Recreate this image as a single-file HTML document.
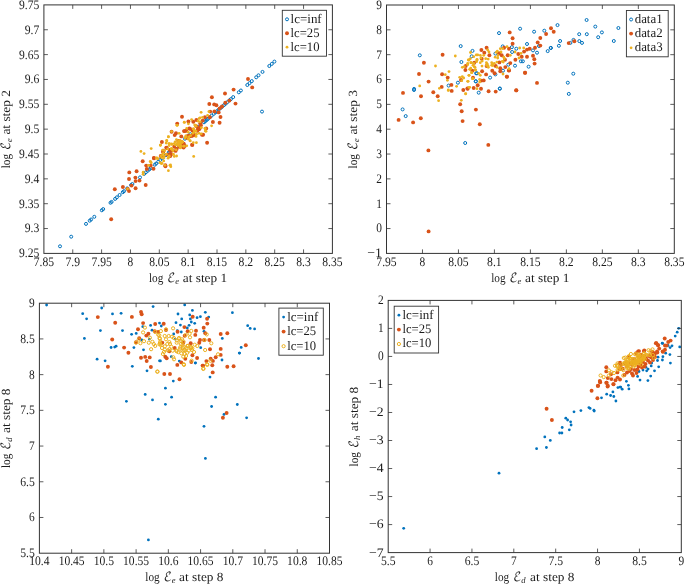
<!DOCTYPE html>
<html lang="en"><head><meta charset="utf-8"><title>Scatter plots</title>
<style>html,body{margin:0;padding:0;background:#fff}svg{display:block}text{text-rendering:geometricPrecision;font-family:"Liberation Serif","DejaVu Serif",serif}</style>
</head><body>
<svg style="will-change:transform" width="685" height="585" viewBox="0 0 685 585">
<rect width="685" height="585" fill="#fff"/>
<!-- panel 1 -->
<g fill="none" stroke="#0072BD" stroke-width="1"><circle cx="60.0" cy="246.3" r="1.5"/><circle cx="71.2" cy="236.7" r="1.5"/><circle cx="86.0" cy="223.9" r="1.5"/><circle cx="89.7" cy="220.7" r="1.5"/><circle cx="91.1" cy="219.5" r="1.5"/><circle cx="94.3" cy="216.8" r="1.5"/><circle cx="101.8" cy="210.3" r="1.5"/><circle cx="103.2" cy="209.1" r="1.5"/><circle cx="110.5" cy="202.8" r="1.5"/><circle cx="111.6" cy="201.9" r="1.5"/><circle cx="115.1" cy="198.9" r="1.5"/><circle cx="116.9" cy="197.3" r="1.5"/><circle cx="119.6" cy="195.0" r="1.5"/><circle cx="122.8" cy="192.2" r="1.5"/><circle cx="124.0" cy="191.2" r="1.5"/><circle cx="127.2" cy="188.4" r="1.5"/><circle cx="131.1" cy="185.1" r="1.5"/><circle cx="132.4" cy="184.0" r="1.5"/><circle cx="140.0" cy="177.4" r="1.5"/><circle cx="144.1" cy="173.9" r="1.5"/><circle cx="145.9" cy="172.3" r="1.5"/><circle cx="147.7" cy="170.8" r="1.5"/><circle cx="149.4" cy="169.3" r="1.5"/><circle cx="150.7" cy="168.2" r="1.5"/><circle cx="154.8" cy="164.7" r="1.5"/><circle cx="156.1" cy="163.6" r="1.5"/><circle cx="158.3" cy="161.7" r="1.5"/><circle cx="160.1" cy="160.1" r="1.5"/><circle cx="162.2" cy="158.3" r="1.5"/><circle cx="165.9" cy="155.1" r="1.5"/><circle cx="168.9" cy="152.5" r="1.5"/><circle cx="169.4" cy="152.1" r="1.5"/><circle cx="176.1" cy="146.3" r="1.5"/><circle cx="184.9" cy="138.7" r="1.5"/><circle cx="187.6" cy="136.4" r="1.5"/><circle cx="190.2" cy="134.2" r="1.5"/><circle cx="199.1" cy="126.5" r="1.5"/><circle cx="204.0" cy="122.3" r="1.5"/><circle cx="205.3" cy="121.2" r="1.5"/><circle cx="206.7" cy="120.0" r="1.5"/><circle cx="208.0" cy="118.8" r="1.5"/><circle cx="209.8" cy="117.3" r="1.5"/><circle cx="211.6" cy="115.7" r="1.5"/><circle cx="213.8" cy="113.8" r="1.5"/><circle cx="215.6" cy="112.3" r="1.5"/><circle cx="216.9" cy="111.2" r="1.5"/><circle cx="218.7" cy="109.6" r="1.5"/><circle cx="220.5" cy="108.1" r="1.5"/><circle cx="222.0" cy="106.8" r="1.5"/><circle cx="224.0" cy="105.1" r="1.5"/><circle cx="225.5" cy="103.8" r="1.5"/><circle cx="227.2" cy="102.3" r="1.5"/><circle cx="229.4" cy="100.4" r="1.5"/><circle cx="230.9" cy="99.1" r="1.5"/><circle cx="233.2" cy="97.1" r="1.5"/><circle cx="238.8" cy="92.3" r="1.5"/><circle cx="240.9" cy="90.5" r="1.5"/><circle cx="247.3" cy="85.0" r="1.5"/><circle cx="249.5" cy="83.1" r="1.5"/><circle cx="251.8" cy="81.1" r="1.5"/><circle cx="256.2" cy="77.3" r="1.5"/><circle cx="258.5" cy="75.3" r="1.5"/><circle cx="262.5" cy="71.9" r="1.5"/><circle cx="269.3" cy="66.0" r="1.5"/><circle cx="271.8" cy="63.9" r="1.5"/><circle cx="274.4" cy="61.6" r="1.5"/><circle cx="262.0" cy="111.6" r="1.5"/></g>
<g fill="#D95319"><circle cx="111.2" cy="219.3" r="1.95"/><circle cx="114.8" cy="189.3" r="1.95"/><circle cx="122.9" cy="187.0" r="1.95"/><circle cx="129.0" cy="191.1" r="1.95"/><circle cx="135.6" cy="188.2" r="1.95"/><circle cx="131.5" cy="185.6" r="1.95"/><circle cx="145.7" cy="185.0" r="1.95"/><circle cx="135.6" cy="181.1" r="1.95"/><circle cx="139.5" cy="180.6" r="1.95"/><circle cx="129.0" cy="179.0" r="1.95"/><circle cx="135.4" cy="177.6" r="1.95"/><circle cx="129.3" cy="172.4" r="1.95"/><circle cx="136.6" cy="171.2" r="1.95"/><circle cx="142.7" cy="161.2" r="1.95"/><circle cx="146.2" cy="165.6" r="1.95"/><circle cx="150.7" cy="165.6" r="1.95"/><circle cx="146.8" cy="169.0" r="1.95"/><circle cx="153.5" cy="168.7" r="1.95"/><circle cx="153.9" cy="158.0" r="1.95"/><circle cx="161.3" cy="156.2" r="1.95"/><circle cx="163.1" cy="152.1" r="1.95"/><circle cx="161.9" cy="142.0" r="1.95"/><circle cx="165.4" cy="166.2" r="1.95"/><circle cx="127.7" cy="188.9" r="1.95"/><circle cx="163.2" cy="151.6" r="1.95"/><circle cx="166.3" cy="147.6" r="1.95"/><circle cx="171.2" cy="154.2" r="1.95"/><circle cx="170.3" cy="156.0" r="1.95"/><circle cx="176.6" cy="148.9" r="1.95"/><circle cx="174.3" cy="146.7" r="1.95"/><circle cx="179.2" cy="141.8" r="1.95"/><circle cx="181.9" cy="146.2" r="1.95"/><circle cx="183.7" cy="143.6" r="1.95"/><circle cx="209.3" cy="104.0" r="1.95"/><circle cx="214.2" cy="104.4" r="1.95"/><circle cx="216.4" cy="105.2" r="1.95"/><circle cx="219.6" cy="108.4" r="1.95"/><circle cx="210.2" cy="111.6" r="1.95"/><circle cx="214.4" cy="111.4" r="1.95"/><circle cx="218.7" cy="112.4" r="1.95"/><circle cx="182.0" cy="116.7" r="1.95"/><circle cx="204.9" cy="117.3" r="1.95"/><circle cx="209.8" cy="117.3" r="1.95"/><circle cx="196.4" cy="120.0" r="1.95"/><circle cx="202.7" cy="120.6" r="1.95"/><circle cx="188.4" cy="121.5" r="1.95"/><circle cx="193.3" cy="121.8" r="1.95"/><circle cx="212.9" cy="122.0" r="1.95"/><circle cx="219.6" cy="122.7" r="1.95"/><circle cx="177.2" cy="123.6" r="1.95"/><circle cx="200.9" cy="125.3" r="1.95"/><circle cx="200.4" cy="127.6" r="1.95"/><circle cx="189.3" cy="128.4" r="1.95"/><circle cx="206.2" cy="128.4" r="1.95"/><circle cx="199.1" cy="129.3" r="1.95"/><circle cx="184.0" cy="131.1" r="1.95"/><circle cx="186.2" cy="130.7" r="1.95"/><circle cx="197.3" cy="130.7" r="1.95"/><circle cx="176.0" cy="133.3" r="1.95"/><circle cx="174.7" cy="135.1" r="1.95"/><circle cx="181.3" cy="136.4" r="1.95"/><circle cx="193.8" cy="134.7" r="1.95"/><circle cx="203.1" cy="134.7" r="1.95"/><circle cx="189.3" cy="135.6" r="1.95"/><circle cx="207.1" cy="142.8" r="1.95"/><circle cx="192.2" cy="144.9" r="1.95"/><circle cx="182.2" cy="142.7" r="1.95"/><circle cx="183.6" cy="144.4" r="1.95"/><circle cx="178.2" cy="140.9" r="1.95"/><circle cx="179.1" cy="146.7" r="1.95"/><circle cx="183.6" cy="147.6" r="1.95"/><circle cx="248.0" cy="79.0" r="1.95"/><circle cx="252.2" cy="87.4" r="1.95"/><circle cx="233.6" cy="89.6" r="1.95"/><circle cx="225.0" cy="93.5" r="1.95"/><circle cx="211.9" cy="97.3" r="1.95"/><circle cx="235.5" cy="103.6" r="1.95"/><circle cx="229.4" cy="100.6" r="1.95"/><circle cx="225.3" cy="102.8" r="1.95"/><circle cx="222.0" cy="106.5" r="1.95"/><circle cx="220.5" cy="117.0" r="1.95"/><circle cx="171.6" cy="131.7" r="1.95"/><circle cx="165.3" cy="165.3" r="1.95"/><circle cx="160.7" cy="156.0" r="1.95"/><circle cx="170.0" cy="154.0" r="1.95"/><circle cx="154.0" cy="158.3" r="1.95"/><circle cx="166.7" cy="148.0" r="1.95"/><circle cx="163.3" cy="150.7" r="1.95"/><circle cx="192.3" cy="144.7" r="1.95"/><circle cx="202.0" cy="134.7" r="1.95"/><circle cx="194.0" cy="135.3" r="1.95"/><circle cx="190.0" cy="128.7" r="1.95"/><circle cx="184.7" cy="131.1" r="1.95"/><circle cx="169.7" cy="149.9" r="1.95"/><circle cx="186.9" cy="136.5" r="1.95"/><circle cx="188.3" cy="136.1" r="1.95"/><circle cx="197.8" cy="127.8" r="1.95"/><circle cx="172.0" cy="150.5" r="1.95"/><circle cx="184.6" cy="145.9" r="1.95"/><circle cx="196.2" cy="126.1" r="1.95"/><circle cx="167.0" cy="154.6" r="1.95"/><circle cx="189.4" cy="136.6" r="1.95"/><circle cx="192.4" cy="130.4" r="1.95"/><circle cx="191.8" cy="136.0" r="1.95"/><circle cx="187.3" cy="138.1" r="1.95"/><circle cx="175.6" cy="150.9" r="1.95"/><circle cx="181.7" cy="142.3" r="1.95"/><circle cx="193.5" cy="133.7" r="1.95"/><circle cx="200.3" cy="123.2" r="1.95"/></g>
<g fill="#EDB120"><circle cx="140.9" cy="151.4" r="1.4"/><circle cx="144.1" cy="153.6" r="1.4"/><circle cx="143.2" cy="172.2" r="1.4"/><circle cx="150.7" cy="162.1" r="1.4"/><circle cx="156.9" cy="158.0" r="1.4"/><circle cx="127.6" cy="188.8" r="1.4"/><circle cx="151.2" cy="148.6" r="1.4"/><circle cx="160.4" cy="145.3" r="1.4"/><circle cx="148.6" cy="165.3" r="1.4"/><circle cx="150.3" cy="161.3" r="1.4"/><circle cx="151.2" cy="162.7" r="1.4"/><circle cx="156.6" cy="158.2" r="1.4"/><circle cx="157.9" cy="158.7" r="1.4"/><circle cx="161.3" cy="163.6" r="1.4"/><circle cx="163.7" cy="160.9" r="1.4"/><circle cx="165.0" cy="165.3" r="1.4"/><circle cx="168.4" cy="170.7" r="1.4"/><circle cx="170.5" cy="164.9" r="1.4"/><circle cx="170.8" cy="166.7" r="1.4"/><circle cx="168.1" cy="158.2" r="1.4"/><circle cx="169.0" cy="156.4" r="1.4"/><circle cx="174.3" cy="156.4" r="1.4"/><circle cx="176.6" cy="156.0" r="1.4"/><circle cx="173.4" cy="154.2" r="1.4"/><circle cx="162.3" cy="155.1" r="1.4"/><circle cx="164.1" cy="156.0" r="1.4"/><circle cx="161.9" cy="157.8" r="1.4"/><circle cx="164.0" cy="157.8" r="1.4"/><circle cx="163.2" cy="153.3" r="1.4"/><circle cx="164.6" cy="150.7" r="1.4"/><circle cx="166.3" cy="154.2" r="1.4"/><circle cx="167.7" cy="148.9" r="1.4"/><circle cx="171.2" cy="148.9" r="1.4"/><circle cx="173.0" cy="150.7" r="1.4"/><circle cx="169.4" cy="143.6" r="1.4"/><circle cx="166.8" cy="140.9" r="1.4"/><circle cx="172.1" cy="144.4" r="1.4"/><circle cx="174.3" cy="143.6" r="1.4"/><circle cx="177.4" cy="143.6" r="1.4"/><circle cx="180.1" cy="144.4" r="1.4"/><circle cx="178.3" cy="141.3" r="1.4"/><circle cx="181.9" cy="141.8" r="1.4"/><circle cx="183.7" cy="146.2" r="1.4"/><circle cx="180.1" cy="147.1" r="1.4"/><circle cx="201.1" cy="112.3" r="1.4"/><circle cx="208.9" cy="111.6" r="1.4"/><circle cx="207.6" cy="115.3" r="1.4"/><circle cx="191.6" cy="119.6" r="1.4"/><circle cx="184.2" cy="122.2" r="1.4"/><circle cx="188.4" cy="123.8" r="1.4"/><circle cx="200.0" cy="121.8" r="1.4"/><circle cx="176.9" cy="125.3" r="1.4"/><circle cx="194.7" cy="124.9" r="1.4"/><circle cx="196.0" cy="126.2" r="1.4"/><circle cx="211.6" cy="125.8" r="1.4"/><circle cx="186.7" cy="128.4" r="1.4"/><circle cx="204.9" cy="128.4" r="1.4"/><circle cx="205.3" cy="131.1" r="1.4"/><circle cx="193.3" cy="128.9" r="1.4"/><circle cx="171.6" cy="131.6" r="1.4"/><circle cx="179.1" cy="133.3" r="1.4"/><circle cx="194.2" cy="132.0" r="1.4"/><circle cx="196.0" cy="131.1" r="1.4"/><circle cx="192.9" cy="133.3" r="1.4"/><circle cx="199.1" cy="133.3" r="1.4"/><circle cx="201.3" cy="133.8" r="1.4"/><circle cx="196.4" cy="134.2" r="1.4"/><circle cx="168.4" cy="136.6" r="1.4"/><circle cx="185.8" cy="136.0" r="1.4"/><circle cx="190.7" cy="135.6" r="1.4"/><circle cx="196.0" cy="136.4" r="1.4"/><circle cx="166.7" cy="140.4" r="1.4"/><circle cx="176.4" cy="139.6" r="1.4"/><circle cx="190.2" cy="140.9" r="1.4"/><circle cx="193.3" cy="142.7" r="1.4"/><circle cx="196.4" cy="142.7" r="1.4"/><circle cx="166.2" cy="143.1" r="1.4"/><circle cx="168.9" cy="143.6" r="1.4"/><circle cx="171.6" cy="144.0" r="1.4"/><circle cx="175.1" cy="141.8" r="1.4"/><circle cx="177.8" cy="142.7" r="1.4"/><circle cx="180.0" cy="143.6" r="1.4"/><circle cx="181.8" cy="141.8" r="1.4"/><circle cx="180.9" cy="145.8" r="1.4"/><circle cx="184.0" cy="146.2" r="1.4"/><circle cx="186.7" cy="145.8" r="1.4"/><circle cx="171.6" cy="148.4" r="1.4"/><circle cx="162.7" cy="150.2" r="1.4"/><circle cx="193.7" cy="156.4" r="1.4"/><circle cx="170.0" cy="165.3" r="1.4"/><circle cx="162.0" cy="163.3" r="1.4"/><circle cx="160.4" cy="145.1" r="1.4"/><circle cx="184.4" cy="122.4" r="1.4"/><circle cx="177.3" cy="125.3" r="1.4"/><circle cx="205.3" cy="128.7" r="1.4"/><circle cx="206.0" cy="131.3" r="1.4"/><circle cx="168.4" cy="136.9" r="1.4"/><circle cx="160.4" cy="145.1" r="1.4"/><circle cx="190.0" cy="140.7" r="1.4"/><circle cx="169.2" cy="155.9" r="1.4"/><circle cx="160.1" cy="162.7" r="1.4"/><circle cx="186.1" cy="136.7" r="1.4"/><circle cx="188.9" cy="137.0" r="1.4"/><circle cx="194.1" cy="130.0" r="1.4"/><circle cx="175.5" cy="144.9" r="1.4"/><circle cx="172.1" cy="149.6" r="1.4"/><circle cx="176.1" cy="149.8" r="1.4"/><circle cx="160.7" cy="156.0" r="1.4"/><circle cx="169.1" cy="145.5" r="1.4"/><circle cx="200.0" cy="117.8" r="1.4"/><circle cx="179.0" cy="142.1" r="1.4"/><circle cx="198.0" cy="121.0" r="1.4"/><circle cx="193.6" cy="128.9" r="1.4"/><circle cx="180.2" cy="140.6" r="1.4"/><circle cx="188.2" cy="132.2" r="1.4"/><circle cx="182.7" cy="141.8" r="1.4"/><circle cx="199.3" cy="118.4" r="1.4"/><circle cx="201.3" cy="127.7" r="1.4"/><circle cx="178.2" cy="145.5" r="1.4"/><circle cx="180.5" cy="147.9" r="1.4"/><circle cx="185.0" cy="138.0" r="1.4"/><circle cx="180.2" cy="142.2" r="1.4"/><circle cx="179.6" cy="140.4" r="1.4"/><circle cx="202.5" cy="117.3" r="1.4"/><circle cx="143.1" cy="174.3" r="1.4"/><circle cx="182.0" cy="142.5" r="1.4"/><circle cx="180.5" cy="142.0" r="1.4"/><circle cx="188.2" cy="139.0" r="1.4"/><circle cx="177.5" cy="143.9" r="1.4"/></g>
<path d="M72.75 253.40v-4.00M72.75 4.90v4.00M101.60 253.40v-4.00M101.60 4.90v4.00M130.45 253.40v-4.00M130.45 4.90v4.00M159.30 253.40v-4.00M159.30 4.90v4.00M188.15 253.40v-4.00M188.15 4.90v4.00M217.00 253.40v-4.00M217.00 4.90v4.00M245.85 253.40v-4.00M245.85 4.90v4.00M274.70 253.40v-4.00M274.70 4.90v4.00M303.55 253.40v-4.00M303.55 4.90v4.00M43.90 228.55h4.00M332.40 228.55h-4.00M43.90 203.70h4.00M332.40 203.70h-4.00M43.90 178.85h4.00M332.40 178.85h-4.00M43.90 154.00h4.00M332.40 154.00h-4.00M43.90 129.15h4.00M332.40 129.15h-4.00M43.90 104.30h4.00M332.40 104.30h-4.00M43.90 79.45h4.00M332.40 79.45h-4.00M43.90 54.60h4.00M332.40 54.60h-4.00M43.90 29.75h4.00M332.40 29.75h-4.00" stroke="#333" stroke-width="0.8" fill="none"/>
<rect x="43.90" y="4.90" width="288.50" height="248.50" fill="none" stroke="#333" stroke-width="1"/>
<g font-size="13.0" fill="#1c1c1c">
<text x="43.90" y="265.60" text-anchor="middle" textLength="20.3" lengthAdjust="spacingAndGlyphs">7.85</text>
<text x="72.75" y="265.60" text-anchor="middle" textLength="14.6" lengthAdjust="spacingAndGlyphs">7.9</text>
<text x="101.60" y="265.60" text-anchor="middle" textLength="20.3" lengthAdjust="spacingAndGlyphs">7.95</text>
<text x="130.45" y="265.60" text-anchor="middle" textLength="5.7" lengthAdjust="spacingAndGlyphs">8</text>
<text x="159.30" y="265.60" text-anchor="middle" textLength="20.3" lengthAdjust="spacingAndGlyphs">8.05</text>
<text x="188.15" y="265.60" text-anchor="middle" textLength="14.6" lengthAdjust="spacingAndGlyphs">8.1</text>
<text x="217.00" y="265.60" text-anchor="middle" textLength="20.3" lengthAdjust="spacingAndGlyphs">8.15</text>
<text x="245.85" y="265.60" text-anchor="middle" textLength="14.6" lengthAdjust="spacingAndGlyphs">8.2</text>
<text x="274.70" y="265.60" text-anchor="middle" textLength="20.3" lengthAdjust="spacingAndGlyphs">8.25</text>
<text x="303.55" y="265.60" text-anchor="middle" textLength="14.6" lengthAdjust="spacingAndGlyphs">8.3</text>
<text x="332.40" y="265.60" text-anchor="middle" textLength="20.3" lengthAdjust="spacingAndGlyphs">8.35</text>
<text x="39.30" y="257.30" text-anchor="end" textLength="20.3" lengthAdjust="spacingAndGlyphs">9.25</text>
<text x="39.30" y="232.45" text-anchor="end" textLength="14.6" lengthAdjust="spacingAndGlyphs">9.3</text>
<text x="39.30" y="207.60" text-anchor="end" textLength="20.3" lengthAdjust="spacingAndGlyphs">9.35</text>
<text x="39.30" y="182.75" text-anchor="end" textLength="14.6" lengthAdjust="spacingAndGlyphs">9.4</text>
<text x="39.30" y="157.90" text-anchor="end" textLength="20.3" lengthAdjust="spacingAndGlyphs">9.45</text>
<text x="39.30" y="133.05" text-anchor="end" textLength="14.6" lengthAdjust="spacingAndGlyphs">9.5</text>
<text x="39.30" y="108.20" text-anchor="end" textLength="20.3" lengthAdjust="spacingAndGlyphs">9.55</text>
<text x="39.30" y="83.35" text-anchor="end" textLength="14.6" lengthAdjust="spacingAndGlyphs">9.6</text>
<text x="39.30" y="58.50" text-anchor="end" textLength="20.3" lengthAdjust="spacingAndGlyphs">9.65</text>
<text x="39.30" y="33.65" text-anchor="end" textLength="14.6" lengthAdjust="spacingAndGlyphs">9.7</text>
<text x="39.30" y="8.80" text-anchor="end" textLength="20.3" lengthAdjust="spacingAndGlyphs">9.75</text>
</g>
<!-- panel 2 -->
<g fill="none" stroke="#0072BD" stroke-width="1"><circle cx="419.8" cy="55.3" r="1.5"/><circle cx="414.1" cy="88.9" r="1.5"/><circle cx="460.7" cy="46.1" r="1.5"/><circle cx="472.5" cy="50.9" r="1.5"/><circle cx="471.7" cy="56.3" r="1.5"/><circle cx="461.4" cy="62.0" r="1.5"/><circle cx="457.9" cy="82.7" r="1.5"/><circle cx="448.6" cy="85.6" r="1.5"/><circle cx="476.1" cy="73.3" r="1.5"/><circle cx="475.7" cy="81.3" r="1.5"/><circle cx="520.1" cy="28.7" r="1.5"/><circle cx="499.0" cy="33.1" r="1.5"/><circle cx="534.1" cy="31.7" r="1.5"/><circle cx="544.3" cy="30.7" r="1.5"/><circle cx="527.0" cy="44.0" r="1.5"/><circle cx="502.7" cy="46.4" r="1.5"/><circle cx="511.9" cy="47.1" r="1.5"/><circle cx="516.3" cy="48.7" r="1.5"/><circle cx="512.1" cy="52.0" r="1.5"/><circle cx="495.4" cy="53.6" r="1.5"/><circle cx="533.0" cy="50.4" r="1.5"/><circle cx="537.0" cy="52.7" r="1.5"/><circle cx="539.0" cy="46.0" r="1.5"/><circle cx="550.7" cy="48.0" r="1.5"/><circle cx="547.7" cy="51.1" r="1.5"/><circle cx="520.9" cy="61.3" r="1.5"/><circle cx="522.9" cy="61.3" r="1.5"/><circle cx="515.0" cy="65.7" r="1.5"/><circle cx="528.6" cy="66.7" r="1.5"/><circle cx="508.3" cy="64.7" r="1.5"/><circle cx="503.0" cy="70.7" r="1.5"/><circle cx="495.4" cy="74.4" r="1.5"/><circle cx="490.1" cy="77.6" r="1.5"/><circle cx="477.0" cy="73.3" r="1.5"/><circle cx="475.9" cy="81.3" r="1.5"/><circle cx="499.9" cy="88.7" r="1.5"/><circle cx="478.7" cy="92.7" r="1.5"/><circle cx="557.5" cy="25.1" r="1.5"/><circle cx="586.6" cy="20.0" r="1.5"/><circle cx="595.3" cy="26.6" r="1.5"/><circle cx="618.4" cy="28.0" r="1.5"/><circle cx="601.9" cy="32.4" r="1.5"/><circle cx="586.8" cy="34.2" r="1.5"/><circle cx="579.2" cy="34.2" r="1.5"/><circle cx="598.2" cy="37.2" r="1.5"/><circle cx="613.8" cy="41.0" r="1.5"/><circle cx="573.5" cy="39.9" r="1.5"/><circle cx="579.3" cy="41.1" r="1.5"/><circle cx="582.0" cy="42.9" r="1.5"/><circle cx="570.4" cy="42.9" r="1.5"/><circle cx="560.1" cy="41.0" r="1.5"/><circle cx="558.9" cy="45.8" r="1.5"/><circle cx="550.9" cy="47.9" r="1.5"/><circle cx="573.3" cy="73.7" r="1.5"/><circle cx="567.8" cy="82.7" r="1.5"/><circle cx="568.8" cy="93.9" r="1.5"/><circle cx="402.6" cy="109.4" r="1.5"/><circle cx="405.7" cy="116.1" r="1.5"/><circle cx="465.2" cy="143.0" r="1.5"/><circle cx="414.0" cy="90.0" r="1.5"/><circle cx="499.8" cy="88.5" r="1.5"/></g>
<g fill="#D95319"><circle cx="442.6" cy="54.7" r="1.95"/><circle cx="423.9" cy="62.8" r="1.95"/><circle cx="419.0" cy="74.0" r="1.95"/><circle cx="442.1" cy="74.3" r="1.95"/><circle cx="447.7" cy="77.6" r="1.95"/><circle cx="428.6" cy="81.6" r="1.95"/><circle cx="451.4" cy="84.9" r="1.95"/><circle cx="441.7" cy="86.9" r="1.95"/><circle cx="451.7" cy="90.9" r="1.95"/><circle cx="403.0" cy="92.9" r="1.95"/><circle cx="433.3" cy="92.3" r="1.95"/><circle cx="421.0" cy="96.3" r="1.95"/><circle cx="437.7" cy="96.3" r="1.95"/><circle cx="463.3" cy="90.0" r="1.95"/><circle cx="467.4" cy="88.4" r="1.95"/><circle cx="473.7" cy="88.0" r="1.95"/><circle cx="465.4" cy="70.0" r="1.95"/><circle cx="473.0" cy="77.6" r="1.95"/><circle cx="465.7" cy="66.0" r="1.95"/><circle cx="472.3" cy="70.7" r="1.95"/><circle cx="474.3" cy="62.7" r="1.95"/><circle cx="461.0" cy="80.0" r="1.95"/><circle cx="509.7" cy="32.4" r="1.95"/><circle cx="512.6" cy="38.3" r="1.95"/><circle cx="512.6" cy="43.7" r="1.95"/><circle cx="551.0" cy="28.3" r="1.95"/><circle cx="553.7" cy="31.7" r="1.95"/><circle cx="546.1" cy="34.0" r="1.95"/><circle cx="540.3" cy="38.0" r="1.95"/><circle cx="537.7" cy="42.4" r="1.95"/><circle cx="540.3" cy="45.6" r="1.95"/><circle cx="535.0" cy="47.7" r="1.95"/><circle cx="529.7" cy="48.7" r="1.95"/><circle cx="527.0" cy="49.6" r="1.95"/><circle cx="524.1" cy="51.6" r="1.95"/><circle cx="518.3" cy="54.0" r="1.95"/><circle cx="521.7" cy="56.7" r="1.95"/><circle cx="527.0" cy="56.7" r="1.95"/><circle cx="533.0" cy="55.7" r="1.95"/><circle cx="534.3" cy="59.3" r="1.95"/><circle cx="534.6" cy="63.6" r="1.95"/><circle cx="515.4" cy="59.7" r="1.95"/><circle cx="510.3" cy="63.1" r="1.95"/><circle cx="525.0" cy="72.7" r="1.95"/><circle cx="537.0" cy="82.9" r="1.95"/><circle cx="516.3" cy="90.3" r="1.95"/><circle cx="507.0" cy="76.7" r="1.95"/><circle cx="495.7" cy="91.6" r="1.95"/><circle cx="488.6" cy="91.3" r="1.95"/><circle cx="481.0" cy="88.7" r="1.95"/><circle cx="477.7" cy="85.3" r="1.95"/><circle cx="467.7" cy="88.7" r="1.95"/><circle cx="483.7" cy="80.4" r="1.95"/><circle cx="481.5" cy="80.6" r="1.95"/><circle cx="486.1" cy="74.4" r="1.95"/><circle cx="492.3" cy="70.7" r="1.95"/><circle cx="494.6" cy="73.3" r="1.95"/><circle cx="500.3" cy="71.3" r="1.95"/><circle cx="500.3" cy="68.3" r="1.95"/><circle cx="495.7" cy="66.0" r="1.95"/><circle cx="486.6" cy="66.0" r="1.95"/><circle cx="482.1" cy="71.3" r="1.95"/><circle cx="505.3" cy="67.1" r="1.95"/><circle cx="499.4" cy="62.4" r="1.95"/><circle cx="509.0" cy="70.4" r="1.95"/><circle cx="481.4" cy="50.0" r="1.95"/><circle cx="486.6" cy="47.7" r="1.95"/><circle cx="484.3" cy="52.7" r="1.95"/><circle cx="489.4" cy="55.3" r="1.95"/><circle cx="499.0" cy="53.3" r="1.95"/><circle cx="501.7" cy="55.3" r="1.95"/><circle cx="504.1" cy="47.7" r="1.95"/><circle cx="509.0" cy="48.7" r="1.95"/><circle cx="507.7" cy="55.3" r="1.95"/><circle cx="481.7" cy="58.7" r="1.95"/><circle cx="505.0" cy="59.7" r="1.95"/><circle cx="568.7" cy="43.1" r="1.95"/><circle cx="574.4" cy="41.3" r="1.95"/><circle cx="420.8" cy="118.3" r="1.95"/><circle cx="460.2" cy="104.2" r="1.95"/><circle cx="461.7" cy="111.3" r="1.95"/><circle cx="475.9" cy="109.6" r="1.95"/><circle cx="462.6" cy="121.1" r="1.95"/><circle cx="479.8" cy="124.3" r="1.95"/><circle cx="488.3" cy="144.9" r="1.95"/><circle cx="428.4" cy="150.4" r="1.95"/><circle cx="398.6" cy="119.9" r="1.95"/><circle cx="413.1" cy="122.4" r="1.95"/><circle cx="428.6" cy="231.4" r="1.95"/><circle cx="525.1" cy="72.7" r="1.95"/><circle cx="516.2" cy="90.4" r="1.95"/><circle cx="506.8" cy="76.6" r="1.95"/><circle cx="508.9" cy="70.5" r="1.95"/></g>
<g fill="#EDB120"><circle cx="455.3" cy="56.0" r="1.4"/><circle cx="435.5" cy="66.0" r="1.4"/><circle cx="449.0" cy="71.6" r="1.4"/><circle cx="445.3" cy="74.7" r="1.4"/><circle cx="447.4" cy="80.3" r="1.4"/><circle cx="419.7" cy="85.9" r="1.4"/><circle cx="439.4" cy="88.3" r="1.4"/><circle cx="448.3" cy="90.0" r="1.4"/><circle cx="456.6" cy="86.3" r="1.4"/><circle cx="465.7" cy="93.6" r="1.4"/><circle cx="469.7" cy="87.3" r="1.4"/><circle cx="468.1" cy="81.3" r="1.4"/><circle cx="459.7" cy="77.3" r="1.4"/><circle cx="462.3" cy="76.7" r="1.4"/><circle cx="463.7" cy="78.0" r="1.4"/><circle cx="461.7" cy="80.7" r="1.4"/><circle cx="469.0" cy="75.3" r="1.4"/><circle cx="472.3" cy="78.7" r="1.4"/><circle cx="462.3" cy="67.3" r="1.4"/><circle cx="464.3" cy="66.7" r="1.4"/><circle cx="467.7" cy="64.7" r="1.4"/><circle cx="468.3" cy="60.0" r="1.4"/><circle cx="470.3" cy="58.7" r="1.4"/><circle cx="471.0" cy="62.7" r="1.4"/><circle cx="473.7" cy="63.3" r="1.4"/><circle cx="474.3" cy="66.7" r="1.4"/><circle cx="470.3" cy="69.3" r="1.4"/><circle cx="471.7" cy="72.7" r="1.4"/><circle cx="475.0" cy="70.0" r="1.4"/><circle cx="473.7" cy="56.7" r="1.4"/><circle cx="476.3" cy="54.9" r="1.4"/><circle cx="507.0" cy="46.7" r="1.4"/><circle cx="519.7" cy="48.0" r="1.4"/><circle cx="523.7" cy="48.0" r="1.4"/><circle cx="521.0" cy="53.3" r="1.4"/><circle cx="515.0" cy="52.0" r="1.4"/><circle cx="519.0" cy="58.0" r="1.4"/><circle cx="510.3" cy="55.3" r="1.4"/><circle cx="500.3" cy="48.7" r="1.4"/><circle cx="501.0" cy="52.0" r="1.4"/><circle cx="497.7" cy="58.0" r="1.4"/><circle cx="504.3" cy="58.7" r="1.4"/><circle cx="502.3" cy="61.3" r="1.4"/><circle cx="487.7" cy="50.0" r="1.4"/><circle cx="489.0" cy="52.0" r="1.4"/><circle cx="477.7" cy="54.9" r="1.4"/><circle cx="480.3" cy="55.3" r="1.4"/><circle cx="483.7" cy="55.3" r="1.4"/><circle cx="481.0" cy="58.0" r="1.4"/><circle cx="485.7" cy="58.7" r="1.4"/><circle cx="477.0" cy="59.3" r="1.4"/><circle cx="469.0" cy="60.0" r="1.4"/><circle cx="467.7" cy="63.3" r="1.4"/><circle cx="471.0" cy="62.7" r="1.4"/><circle cx="473.0" cy="65.3" r="1.4"/><circle cx="480.3" cy="62.7" r="1.4"/><circle cx="487.0" cy="64.0" r="1.4"/><circle cx="491.7" cy="62.7" r="1.4"/><circle cx="494.3" cy="63.3" r="1.4"/><circle cx="491.7" cy="65.3" r="1.4"/><circle cx="488.3" cy="67.3" r="1.4"/><circle cx="475.0" cy="67.3" r="1.4"/><circle cx="469.7" cy="69.3" r="1.4"/><circle cx="475.7" cy="70.0" r="1.4"/><circle cx="471.7" cy="72.7" r="1.4"/><circle cx="469.0" cy="75.3" r="1.4"/><circle cx="480.3" cy="75.3" r="1.4"/><circle cx="473.0" cy="78.7" r="1.4"/><circle cx="479.7" cy="79.3" r="1.4"/><circle cx="467.7" cy="81.3" r="1.4"/><circle cx="479.7" cy="82.0" r="1.4"/><circle cx="469.0" cy="87.3" r="1.4"/><circle cx="477.0" cy="88.7" r="1.4"/><circle cx="503.0" cy="74.0" r="1.4"/><circle cx="509.0" cy="68.7" r="1.4"/><circle cx="497.0" cy="67.3" r="1.4"/><circle cx="438.6" cy="100.7" r="1.4"/><circle cx="461.3" cy="100.3" r="1.4"/><circle cx="465.6" cy="93.9" r="1.4"/><circle cx="448.3" cy="90.4" r="1.4"/><circle cx="482.0" cy="66.1" r="1.4"/><circle cx="482.2" cy="61.1" r="1.4"/><circle cx="476.6" cy="61.7" r="1.4"/><circle cx="492.9" cy="65.5" r="1.4"/><circle cx="492.3" cy="64.5" r="1.4"/><circle cx="487.2" cy="64.1" r="1.4"/><circle cx="470.7" cy="68.1" r="1.4"/><circle cx="488.1" cy="66.0" r="1.4"/><circle cx="470.5" cy="52.5" r="1.4"/><circle cx="476.9" cy="60.2" r="1.4"/><circle cx="486.4" cy="62.7" r="1.4"/><circle cx="488.2" cy="59.1" r="1.4"/><circle cx="486.5" cy="65.4" r="1.4"/><circle cx="478.7" cy="73.3" r="1.4"/><circle cx="503.3" cy="62.0" r="1.4"/><circle cx="496.3" cy="52.3" r="1.4"/><circle cx="497.9" cy="55.5" r="1.4"/><circle cx="503.8" cy="57.2" r="1.4"/><circle cx="497.3" cy="51.2" r="1.4"/><circle cx="496.9" cy="62.1" r="1.4"/><circle cx="495.2" cy="57.2" r="1.4"/><circle cx="502.6" cy="48.6" r="1.4"/></g>
<path d="M422.47 253.40v-4.00M422.47 5.00v4.00M458.45 253.40v-4.00M458.45 5.00v4.00M494.42 253.40v-4.00M494.42 5.00v4.00M530.40 253.40v-4.00M530.40 5.00v4.00M566.37 253.40v-4.00M566.37 5.00v4.00M602.35 253.40v-4.00M602.35 5.00v4.00M638.33 253.40v-4.00M638.33 5.00v4.00M386.50 228.56h4.00M674.30 228.56h-4.00M386.50 203.72h4.00M674.30 203.72h-4.00M386.50 178.88h4.00M674.30 178.88h-4.00M386.50 154.04h4.00M674.30 154.04h-4.00M386.50 129.20h4.00M674.30 129.20h-4.00M386.50 104.36h4.00M674.30 104.36h-4.00M386.50 79.52h4.00M674.30 79.52h-4.00M386.50 54.68h4.00M674.30 54.68h-4.00M386.50 29.84h4.00M674.30 29.84h-4.00" stroke="#333" stroke-width="0.8" fill="none"/>
<rect x="386.50" y="5.00" width="287.80" height="248.40" fill="none" stroke="#333" stroke-width="1"/>
<g font-size="13.0" fill="#1c1c1c">
<text x="386.50" y="265.60" text-anchor="middle" textLength="20.3" lengthAdjust="spacingAndGlyphs">7.95</text>
<text x="422.47" y="265.60" text-anchor="middle" textLength="5.7" lengthAdjust="spacingAndGlyphs">8</text>
<text x="458.45" y="265.60" text-anchor="middle" textLength="20.3" lengthAdjust="spacingAndGlyphs">8.05</text>
<text x="494.42" y="265.60" text-anchor="middle" textLength="14.6" lengthAdjust="spacingAndGlyphs">8.1</text>
<text x="530.40" y="265.60" text-anchor="middle" textLength="20.3" lengthAdjust="spacingAndGlyphs">8.15</text>
<text x="566.37" y="265.60" text-anchor="middle" textLength="14.6" lengthAdjust="spacingAndGlyphs">8.2</text>
<text x="602.35" y="265.60" text-anchor="middle" textLength="20.3" lengthAdjust="spacingAndGlyphs">8.25</text>
<text x="638.33" y="265.60" text-anchor="middle" textLength="14.6" lengthAdjust="spacingAndGlyphs">8.3</text>
<text x="674.30" y="265.60" text-anchor="middle" textLength="20.3" lengthAdjust="spacingAndGlyphs">8.35</text>
<text x="381.90" y="257.30" text-anchor="end" textLength="14.6" lengthAdjust="spacingAndGlyphs">−1</text>
<text x="381.90" y="232.46" text-anchor="end" textLength="5.7" lengthAdjust="spacingAndGlyphs">0</text>
<text x="381.90" y="207.62" text-anchor="end" textLength="5.7" lengthAdjust="spacingAndGlyphs">1</text>
<text x="381.90" y="182.78" text-anchor="end" textLength="5.7" lengthAdjust="spacingAndGlyphs">2</text>
<text x="381.90" y="157.94" text-anchor="end" textLength="5.7" lengthAdjust="spacingAndGlyphs">3</text>
<text x="381.90" y="133.10" text-anchor="end" textLength="5.7" lengthAdjust="spacingAndGlyphs">4</text>
<text x="381.90" y="108.26" text-anchor="end" textLength="5.7" lengthAdjust="spacingAndGlyphs">5</text>
<text x="381.90" y="83.42" text-anchor="end" textLength="5.7" lengthAdjust="spacingAndGlyphs">6</text>
<text x="381.90" y="58.58" text-anchor="end" textLength="5.7" lengthAdjust="spacingAndGlyphs">7</text>
<text x="381.90" y="33.74" text-anchor="end" textLength="5.7" lengthAdjust="spacingAndGlyphs">8</text>
<text x="381.90" y="8.90" text-anchor="end" textLength="5.7" lengthAdjust="spacingAndGlyphs">9</text>
</g>
<!-- panel 3 -->
<g fill="#0072BD"><circle cx="46.6" cy="305.0" r="1.4"/><circle cx="101.7" cy="308.0" r="1.4"/><circle cx="82.7" cy="313.7" r="1.4"/><circle cx="86.6" cy="318.8" r="1.4"/><circle cx="112.5" cy="313.9" r="1.4"/><circle cx="121.1" cy="313.3" r="1.4"/><circle cx="153.1" cy="306.6" r="1.4"/><circle cx="100.4" cy="330.6" r="1.4"/><circle cx="122.5" cy="330.6" r="1.4"/><circle cx="84.4" cy="338.4" r="1.4"/><circle cx="131.6" cy="334.3" r="1.4"/><circle cx="136.2" cy="333.4" r="1.4"/><circle cx="111.1" cy="347.5" r="1.4"/><circle cx="114.7" cy="347.1" r="1.4"/><circle cx="116.1" cy="346.2" r="1.4"/><circle cx="133.9" cy="347.6" r="1.4"/><circle cx="143.5" cy="349.8" r="1.4"/><circle cx="97.1" cy="359.2" r="1.4"/><circle cx="105.1" cy="360.8" r="1.4"/><circle cx="132.3" cy="366.3" r="1.4"/><circle cx="147.0" cy="370.8" r="1.4"/><circle cx="145.2" cy="394.4" r="1.4"/><circle cx="126.4" cy="401.3" r="1.4"/><circle cx="152.5" cy="399.9" r="1.4"/><circle cx="150.6" cy="325.4" r="1.4"/><circle cx="142.8" cy="326.7" r="1.4"/><circle cx="159.5" cy="323.1" r="1.4"/><circle cx="141.7" cy="340.0" r="1.4"/><circle cx="149.3" cy="339.1" r="1.4"/><circle cx="152.0" cy="330.2" r="1.4"/><circle cx="159.5" cy="360.8" r="1.4"/><circle cx="184.7" cy="304.9" r="1.4"/><circle cx="192.4" cy="310.4" r="1.4"/><circle cx="178.0" cy="314.0" r="1.4"/><circle cx="189.7" cy="314.9" r="1.4"/><circle cx="181.7" cy="318.9" r="1.4"/><circle cx="190.4" cy="318.9" r="1.4"/><circle cx="197.1" cy="317.7" r="1.4"/><circle cx="200.4" cy="316.7" r="1.4"/><circle cx="205.3" cy="312.3" r="1.4"/><circle cx="208.7" cy="317.1" r="1.4"/><circle cx="232.4" cy="312.7" r="1.4"/><circle cx="176.0" cy="322.7" r="1.4"/><circle cx="180.4" cy="325.1" r="1.4"/><circle cx="191.3" cy="322.0" r="1.4"/><circle cx="194.7" cy="323.3" r="1.4"/><circle cx="189.1" cy="325.3" r="1.4"/><circle cx="187.3" cy="328.0" r="1.4"/><circle cx="181.3" cy="332.0" r="1.4"/><circle cx="177.3" cy="330.7" r="1.4"/><circle cx="161.3" cy="326.0" r="1.4"/><circle cx="173.7" cy="334.0" r="1.4"/><circle cx="175.1" cy="339.1" r="1.4"/><circle cx="204.0" cy="331.3" r="1.4"/><circle cx="222.3" cy="338.4" r="1.4"/><circle cx="200.7" cy="347.7" r="1.4"/><circle cx="239.3" cy="353.1" r="1.4"/><circle cx="222.0" cy="360.0" r="1.4"/><circle cx="195.3" cy="363.1" r="1.4"/><circle cx="179.3" cy="361.1" r="1.4"/><circle cx="160.4" cy="360.9" r="1.4"/><circle cx="171.3" cy="356.7" r="1.4"/><circle cx="210.0" cy="377.1" r="1.4"/><circle cx="173.3" cy="381.1" r="1.4"/><circle cx="165.4" cy="388.2" r="1.4"/><circle cx="171.6" cy="397.2" r="1.4"/><circle cx="165.4" cy="404.3" r="1.4"/><circle cx="158.3" cy="419.2" r="1.4"/><circle cx="215.6" cy="397.2" r="1.4"/><circle cx="211.6" cy="406.5" r="1.4"/><circle cx="237.3" cy="404.5" r="1.4"/><circle cx="224.0" cy="414.4" r="1.4"/><circle cx="246.6" cy="417.8" r="1.4"/><circle cx="204.0" cy="426.3" r="1.4"/><circle cx="205.4" cy="458.4" r="1.4"/><circle cx="195.5" cy="362.8" r="1.4"/><circle cx="247.7" cy="325.7" r="1.4"/><circle cx="250.2" cy="328.4" r="1.4"/><circle cx="254.6" cy="328.9" r="1.4"/><circle cx="241.2" cy="347.4" r="1.4"/><circle cx="239.6" cy="353.1" r="1.4"/><circle cx="258.5" cy="358.5" r="1.4"/><circle cx="148.4" cy="539.9" r="1.4"/></g>
<g fill="#D95319"><circle cx="97.8" cy="317.1" r="1.95"/><circle cx="115.2" cy="322.8" r="1.95"/><circle cx="131.9" cy="316.9" r="1.95"/><circle cx="141.0" cy="311.9" r="1.95"/><circle cx="141.7" cy="314.2" r="1.95"/><circle cx="143.1" cy="323.1" r="1.95"/><circle cx="155.2" cy="324.0" r="1.95"/><circle cx="138.0" cy="329.3" r="1.95"/><circle cx="112.2" cy="339.5" r="1.95"/><circle cx="124.1" cy="347.6" r="1.95"/><circle cx="128.4" cy="352.8" r="1.95"/><circle cx="107.9" cy="366.7" r="1.95"/><circle cx="141.0" cy="357.8" r="1.95"/><circle cx="145.2" cy="356.9" r="1.95"/><circle cx="149.7" cy="357.4" r="1.95"/><circle cx="146.7" cy="361.0" r="1.95"/><circle cx="150.9" cy="367.0" r="1.95"/><circle cx="146.3" cy="335.6" r="1.95"/><circle cx="148.4" cy="333.8" r="1.95"/><circle cx="154.7" cy="331.1" r="1.95"/><circle cx="158.2" cy="332.0" r="1.95"/><circle cx="139.2" cy="338.2" r="1.95"/><circle cx="136.0" cy="342.3" r="1.95"/><circle cx="192.7" cy="316.7" r="1.95"/><circle cx="207.1" cy="318.7" r="1.95"/><circle cx="207.3" cy="323.6" r="1.95"/><circle cx="203.7" cy="327.7" r="1.95"/><circle cx="163.7" cy="323.7" r="1.95"/><circle cx="184.4" cy="327.1" r="1.95"/><circle cx="187.7" cy="331.3" r="1.95"/><circle cx="196.0" cy="330.7" r="1.95"/><circle cx="195.3" cy="334.9" r="1.95"/><circle cx="184.7" cy="335.7" r="1.95"/><circle cx="177.6" cy="331.7" r="1.95"/><circle cx="166.0" cy="330.0" r="1.95"/><circle cx="205.3" cy="333.3" r="1.95"/><circle cx="220.7" cy="334.0" r="1.95"/><circle cx="227.3" cy="333.3" r="1.95"/><circle cx="200.0" cy="340.0" r="1.95"/><circle cx="209.3" cy="340.0" r="1.95"/><circle cx="204.0" cy="340.0" r="1.95"/><circle cx="199.3" cy="342.7" r="1.95"/><circle cx="162.3" cy="342.7" r="1.95"/><circle cx="220.7" cy="348.9" r="1.95"/><circle cx="210.0" cy="349.3" r="1.95"/><circle cx="220.7" cy="354.9" r="1.95"/><circle cx="215.7" cy="357.3" r="1.95"/><circle cx="210.7" cy="358.7" r="1.95"/><circle cx="206.4" cy="361.1" r="1.95"/><circle cx="212.9" cy="360.9" r="1.95"/><circle cx="197.1" cy="358.0" r="1.95"/><circle cx="192.4" cy="355.3" r="1.95"/><circle cx="203.1" cy="365.6" r="1.95"/><circle cx="212.3" cy="365.3" r="1.95"/><circle cx="227.3" cy="366.7" r="1.95"/><circle cx="233.6" cy="366.3" r="1.95"/><circle cx="212.7" cy="372.4" r="1.95"/><circle cx="177.3" cy="364.9" r="1.95"/><circle cx="181.3" cy="362.4" r="1.95"/><circle cx="191.3" cy="362.0" r="1.95"/><circle cx="165.3" cy="356.7" r="1.95"/><circle cx="166.7" cy="358.3" r="1.95"/><circle cx="164.3" cy="374.0" r="1.95"/><circle cx="170.0" cy="374.0" r="1.95"/><circle cx="183.3" cy="342.7" r="1.95"/><circle cx="190.7" cy="343.3" r="1.95"/><circle cx="174.7" cy="348.0" r="1.95"/><circle cx="169.3" cy="351.3" r="1.95"/><circle cx="185.3" cy="358.7" r="1.95"/><circle cx="179.5" cy="379.2" r="1.95"/><circle cx="226.6" cy="413.0" r="1.95"/><circle cx="222.9" cy="417.8" r="1.95"/><circle cx="245.8" cy="345.2" r="1.95"/><circle cx="202.6" cy="365.6" r="1.95"/></g>
<g fill="none" stroke="#EDB120" stroke-width="1"><circle cx="144.9" cy="327.6" r="1.6"/><circle cx="143.1" cy="332.4" r="1.6"/><circle cx="155.2" cy="332.0" r="1.6"/><circle cx="158.2" cy="334.7" r="1.6"/><circle cx="149.9" cy="337.7" r="1.6"/><circle cx="159.5" cy="338.2" r="1.6"/><circle cx="138.7" cy="339.5" r="1.6"/><circle cx="136.0" cy="342.7" r="1.6"/><circle cx="140.4" cy="343.2" r="1.6"/><circle cx="144.0" cy="341.2" r="1.6"/><circle cx="148.8" cy="342.7" r="1.6"/><circle cx="152.4" cy="341.8" r="1.6"/><circle cx="153.8" cy="344.1" r="1.6"/><circle cx="155.2" cy="345.9" r="1.6"/><circle cx="159.5" cy="344.4" r="1.6"/><circle cx="151.1" cy="349.2" r="1.6"/><circle cx="157.3" cy="371.6" r="1.6"/><circle cx="173.1" cy="328.3" r="1.6"/><circle cx="166.0" cy="329.3" r="1.6"/><circle cx="191.3" cy="330.9" r="1.6"/><circle cx="206.7" cy="334.4" r="1.6"/><circle cx="159.3" cy="335.3" r="1.6"/><circle cx="164.7" cy="336.0" r="1.6"/><circle cx="168.7" cy="336.0" r="1.6"/><circle cx="172.0" cy="336.7" r="1.6"/><circle cx="190.0" cy="337.3" r="1.6"/><circle cx="160.0" cy="338.7" r="1.6"/><circle cx="166.0" cy="339.3" r="1.6"/><circle cx="178.7" cy="338.7" r="1.6"/><circle cx="182.0" cy="339.3" r="1.6"/><circle cx="204.7" cy="340.0" r="1.6"/><circle cx="160.7" cy="344.7" r="1.6"/><circle cx="162.0" cy="348.0" r="1.6"/><circle cx="167.3" cy="344.0" r="1.6"/><circle cx="170.0" cy="344.0" r="1.6"/><circle cx="171.3" cy="346.7" r="1.6"/><circle cx="176.7" cy="342.7" r="1.6"/><circle cx="180.7" cy="344.0" r="1.6"/><circle cx="183.3" cy="346.7" r="1.6"/><circle cx="187.3" cy="346.0" r="1.6"/><circle cx="194.7" cy="344.7" r="1.6"/><circle cx="197.3" cy="346.0" r="1.6"/><circle cx="211.3" cy="343.3" r="1.6"/><circle cx="169.3" cy="349.3" r="1.6"/><circle cx="172.7" cy="350.7" r="1.6"/><circle cx="176.7" cy="351.3" r="1.6"/><circle cx="180.0" cy="348.7" r="1.6"/><circle cx="182.7" cy="350.7" r="1.6"/><circle cx="185.3" cy="350.0" r="1.6"/><circle cx="188.7" cy="350.7" r="1.6"/><circle cx="192.0" cy="350.0" r="1.6"/><circle cx="194.0" cy="352.0" r="1.6"/><circle cx="205.1" cy="350.0" r="1.6"/><circle cx="162.9" cy="354.0" r="1.6"/><circle cx="181.3" cy="353.3" r="1.6"/><circle cx="184.7" cy="354.0" r="1.6"/><circle cx="187.3" cy="352.7" r="1.6"/><circle cx="183.3" cy="356.7" r="1.6"/><circle cx="186.0" cy="356.0" r="1.6"/><circle cx="173.3" cy="357.3" r="1.6"/><circle cx="174.0" cy="359.3" r="1.6"/><circle cx="218.0" cy="354.3" r="1.6"/><circle cx="210.3" cy="360.7" r="1.6"/><circle cx="207.3" cy="364.9" r="1.6"/><circle cx="191.6" cy="360.7" r="1.6"/><circle cx="184.0" cy="364.9" r="1.6"/><circle cx="203.3" cy="368.9" r="1.6"/><circle cx="157.5" cy="371.6" r="1.6"/><circle cx="203.4" cy="368.5" r="1.6"/><circle cx="183.7" cy="364.2" r="1.6"/><circle cx="207.1" cy="364.2" r="1.6"/><circle cx="178.4" cy="352.2" r="1.6"/><circle cx="159.9" cy="343.2" r="1.6"/><circle cx="177.0" cy="340.5" r="1.6"/><circle cx="182.5" cy="344.7" r="1.6"/><circle cx="164.8" cy="349.6" r="1.6"/><circle cx="184.0" cy="350.2" r="1.6"/><circle cx="191.0" cy="347.0" r="1.6"/><circle cx="179.1" cy="337.9" r="1.6"/><circle cx="183.5" cy="341.6" r="1.6"/><circle cx="173.9" cy="338.0" r="1.6"/><circle cx="169.3" cy="342.1" r="1.6"/><circle cx="189.6" cy="333.8" r="1.6"/><circle cx="164.9" cy="346.3" r="1.6"/><circle cx="191.0" cy="348.2" r="1.6"/><circle cx="160.9" cy="331.1" r="1.6"/><circle cx="181.2" cy="341.0" r="1.6"/><circle cx="167.9" cy="350.4" r="1.6"/><circle cx="187.9" cy="345.9" r="1.6"/><circle cx="180.2" cy="347.4" r="1.6"/><circle cx="192.3" cy="348.4" r="1.6"/><circle cx="182.7" cy="348.0" r="1.6"/><circle cx="163.9" cy="352.0" r="1.6"/><circle cx="186.6" cy="347.9" r="1.6"/><circle cx="160.2" cy="341.5" r="1.6"/><circle cx="185.6" cy="335.0" r="1.6"/><circle cx="176.3" cy="350.6" r="1.6"/></g>
<path d="M71.63 553.20v-4.00M71.63 303.20v4.00M103.87 553.20v-4.00M103.87 303.20v4.00M136.10 553.20v-4.00M136.10 303.20v4.00M168.33 553.20v-4.00M168.33 303.20v4.00M200.57 553.20v-4.00M200.57 303.20v4.00M232.80 553.20v-4.00M232.80 303.20v4.00M265.03 553.20v-4.00M265.03 303.20v4.00M297.27 553.20v-4.00M297.27 303.20v4.00M39.40 517.49h4.00M329.50 517.49h-4.00M39.40 481.77h4.00M329.50 481.77h-4.00M39.40 446.06h4.00M329.50 446.06h-4.00M39.40 410.34h4.00M329.50 410.34h-4.00M39.40 374.63h4.00M329.50 374.63h-4.00M39.40 338.91h4.00M329.50 338.91h-4.00" stroke="#333" stroke-width="0.8" fill="none"/>
<rect x="39.40" y="303.20" width="290.10" height="250.00" fill="none" stroke="#333" stroke-width="1"/>
<g font-size="13.0" fill="#1c1c1c">
<text x="39.40" y="565.40" text-anchor="middle" textLength="20.3" lengthAdjust="spacingAndGlyphs">10.4</text>
<text x="71.63" y="565.40" text-anchor="middle" textLength="26.0" lengthAdjust="spacingAndGlyphs">10.45</text>
<text x="103.87" y="565.40" text-anchor="middle" textLength="20.3" lengthAdjust="spacingAndGlyphs">10.5</text>
<text x="136.10" y="565.40" text-anchor="middle" textLength="26.0" lengthAdjust="spacingAndGlyphs">10.55</text>
<text x="168.33" y="565.40" text-anchor="middle" textLength="20.3" lengthAdjust="spacingAndGlyphs">10.6</text>
<text x="200.57" y="565.40" text-anchor="middle" textLength="26.0" lengthAdjust="spacingAndGlyphs">10.65</text>
<text x="232.80" y="565.40" text-anchor="middle" textLength="20.3" lengthAdjust="spacingAndGlyphs">10.7</text>
<text x="265.03" y="565.40" text-anchor="middle" textLength="26.0" lengthAdjust="spacingAndGlyphs">10.75</text>
<text x="297.27" y="565.40" text-anchor="middle" textLength="20.3" lengthAdjust="spacingAndGlyphs">10.8</text>
<text x="329.50" y="565.40" text-anchor="middle" textLength="26.0" lengthAdjust="spacingAndGlyphs">10.85</text>
<text x="34.80" y="557.10" text-anchor="end" textLength="14.6" lengthAdjust="spacingAndGlyphs">5.5</text>
<text x="34.80" y="521.39" text-anchor="end" textLength="5.7" lengthAdjust="spacingAndGlyphs">6</text>
<text x="34.80" y="485.67" text-anchor="end" textLength="14.6" lengthAdjust="spacingAndGlyphs">6.5</text>
<text x="34.80" y="449.96" text-anchor="end" textLength="5.7" lengthAdjust="spacingAndGlyphs">7</text>
<text x="34.80" y="414.24" text-anchor="end" textLength="14.6" lengthAdjust="spacingAndGlyphs">7.5</text>
<text x="34.80" y="378.53" text-anchor="end" textLength="5.7" lengthAdjust="spacingAndGlyphs">8</text>
<text x="34.80" y="342.81" text-anchor="end" textLength="14.6" lengthAdjust="spacingAndGlyphs">8.5</text>
<text x="34.80" y="307.10" text-anchor="end" textLength="5.7" lengthAdjust="spacingAndGlyphs">9</text>
</g>
<!-- panel 4 -->
<g fill="#0072BD"><circle cx="678.7" cy="328.3" r="1.4"/><circle cx="677.2" cy="332.2" r="1.4"/><circle cx="675.2" cy="336.1" r="1.4"/><circle cx="679.7" cy="346.9" r="1.4"/><circle cx="672.0" cy="345.8" r="1.4"/><circle cx="670.1" cy="347.6" r="1.4"/><circle cx="668.0" cy="345.5" r="1.4"/><circle cx="662.6" cy="343.4" r="1.4"/><circle cx="665.7" cy="353.2" r="1.4"/><circle cx="669.9" cy="354.6" r="1.4"/><circle cx="662.9" cy="356.7" r="1.4"/><circle cx="662.4" cy="360.0" r="1.4"/><circle cx="670.4" cy="363.1" r="1.4"/><circle cx="658.0" cy="357.2" r="1.4"/><circle cx="657.5" cy="360.5" r="1.4"/><circle cx="654.5" cy="356.7" r="1.4"/><circle cx="651.7" cy="363.1" r="1.4"/><circle cx="651.2" cy="365.9" r="1.4"/><circle cx="658.7" cy="366.8" r="1.4"/><circle cx="654.5" cy="370.8" r="1.4"/><circle cx="650.7" cy="376.1" r="1.4"/><circle cx="646.0" cy="367.3" r="1.4"/><circle cx="648.1" cy="369.1" r="1.4"/><circle cx="646.7" cy="370.8" r="1.4"/><circle cx="643.0" cy="370.1" r="1.4"/><circle cx="639.0" cy="371.5" r="1.4"/><circle cx="637.6" cy="376.4" r="1.4"/><circle cx="640.0" cy="380.1" r="1.4"/><circle cx="647.9" cy="380.6" r="1.4"/><circle cx="626.4" cy="381.3" r="1.4"/><circle cx="544.8" cy="436.9" r="1.4"/><circle cx="550.3" cy="440.4" r="1.4"/><circle cx="559.6" cy="433.0" r="1.4"/><circle cx="561.9" cy="433.0" r="1.4"/><circle cx="562.2" cy="427.5" r="1.4"/><circle cx="569.3" cy="429.8" r="1.4"/><circle cx="571.1" cy="425.0" r="1.4"/><circle cx="570.6" cy="421.8" r="1.4"/><circle cx="567.6" cy="420.0" r="1.4"/><circle cx="565.8" cy="418.2" r="1.4"/><circle cx="574.0" cy="411.8" r="1.4"/><circle cx="580.9" cy="410.6" r="1.4"/><circle cx="588.9" cy="407.6" r="1.4"/><circle cx="590.1" cy="408.4" r="1.4"/><circle cx="593.9" cy="410.2" r="1.4"/><circle cx="594.2" cy="411.1" r="1.4"/><circle cx="601.5" cy="397.8" r="1.4"/><circle cx="606.7" cy="394.2" r="1.4"/><circle cx="610.6" cy="395.5" r="1.4"/><circle cx="613.8" cy="396.5" r="1.4"/><circle cx="612.9" cy="391.9" r="1.4"/><circle cx="615.9" cy="401.0" r="1.4"/><circle cx="617.9" cy="387.6" r="1.4"/><circle cx="620.0" cy="387.1" r="1.4"/><circle cx="403.7" cy="528.3" r="1.4"/><circle cx="499.0" cy="473.2" r="1.4"/><circle cx="536.6" cy="448.7" r="1.4"/><circle cx="546.4" cy="447.5" r="1.4"/><circle cx="628.4" cy="385.3" r="1.4"/><circle cx="628.9" cy="388.9" r="1.4"/><circle cx="620.7" cy="387.1" r="1.4"/><circle cx="622.2" cy="389.2" r="1.4"/><circle cx="662.2" cy="343.2" r="1.4"/></g>
<g fill="#D95319"><circle cx="664.7" cy="338.5" r="1.95"/><circle cx="670.6" cy="340.6" r="1.95"/><circle cx="668.2" cy="342.0" r="1.95"/><circle cx="655.9" cy="343.2" r="1.95"/><circle cx="658.0" cy="345.1" r="1.95"/><circle cx="665.0" cy="345.5" r="1.95"/><circle cx="665.0" cy="349.7" r="1.95"/><circle cx="662.9" cy="351.8" r="1.95"/><circle cx="657.3" cy="352.5" r="1.95"/><circle cx="653.8" cy="353.2" r="1.95"/><circle cx="598.1" cy="385.8" r="1.95"/><circle cx="600.1" cy="382.2" r="1.95"/><circle cx="606.3" cy="382.7" r="1.95"/><circle cx="607.8" cy="385.8" r="1.95"/><circle cx="606.3" cy="367.3" r="1.95"/><circle cx="606.3" cy="371.4" r="1.95"/><circle cx="611.4" cy="379.1" r="1.95"/><circle cx="613.5" cy="384.3" r="1.95"/><circle cx="615.5" cy="380.2" r="1.95"/><circle cx="617.6" cy="377.6" r="1.95"/><circle cx="607.8" cy="378.1" r="1.95"/><circle cx="599.8" cy="381.0" r="1.95"/><circle cx="611.0" cy="374.3" r="1.95"/><circle cx="629.5" cy="371.0" r="1.95"/><circle cx="632.0" cy="373.5" r="1.95"/><circle cx="634.5" cy="370.0" r="1.95"/><circle cx="636.5" cy="373.0" r="1.95"/><circle cx="633.0" cy="375.5" r="1.95"/><circle cx="637.5" cy="369.5" r="1.95"/><circle cx="631.0" cy="369.0" r="1.95"/><circle cx="627.0" cy="372.5" r="1.95"/><circle cx="624.5" cy="375.0" r="1.95"/><circle cx="620.0" cy="379.5" r="1.95"/><circle cx="638.5" cy="366.5" r="1.95"/><circle cx="640.5" cy="365.0" r="1.95"/><circle cx="643.0" cy="362.0" r="1.95"/><circle cx="645.5" cy="364.0" r="1.95"/><circle cx="648.0" cy="360.5" r="1.95"/><circle cx="650.0" cy="362.5" r="1.95"/><circle cx="646.0" cy="358.5" r="1.95"/><circle cx="651.5" cy="357.5" r="1.95"/><circle cx="653.0" cy="360.0" r="1.95"/><circle cx="649.0" cy="356.0" r="1.95"/><circle cx="642.0" cy="367.5" r="1.95"/><circle cx="644.5" cy="366.5" r="1.95"/><circle cx="652.5" cy="355.0" r="1.95"/><circle cx="655.0" cy="357.0" r="1.95"/><circle cx="628.4" cy="357.1" r="1.95"/><circle cx="620.1" cy="362.7" r="1.95"/><circle cx="638.1" cy="351.4" r="1.95"/><circle cx="644.3" cy="350.4" r="1.95"/><circle cx="656.4" cy="343.2" r="1.95"/><circle cx="658.1" cy="345.3" r="1.95"/><circle cx="657.1" cy="351.4" r="1.95"/><circle cx="655.0" cy="353.5" r="1.95"/><circle cx="662.7" cy="351.4" r="1.95"/><circle cx="639.0" cy="351.1" r="1.95"/><circle cx="636.2" cy="353.2" r="1.95"/><circle cx="643.9" cy="351.1" r="1.95"/><circle cx="546.6" cy="408.8" r="1.95"/><circle cx="551.9" cy="420.0" r="1.95"/><circle cx="591.6" cy="390.7" r="1.95"/><circle cx="597.4" cy="398.3" r="1.95"/><circle cx="597.8" cy="385.9" r="1.95"/><circle cx="600.1" cy="382.1" r="1.95"/><circle cx="606.7" cy="382.7" r="1.95"/><circle cx="607.6" cy="386.6" r="1.95"/><circle cx="613.4" cy="384.1" r="1.95"/><circle cx="619.5" cy="363.1" r="1.95"/><circle cx="622.6" cy="368.8" r="1.95"/><circle cx="643.4" cy="355.9" r="1.95"/><circle cx="621.1" cy="368.3" r="1.95"/><circle cx="640.2" cy="362.1" r="1.95"/><circle cx="620.8" cy="364.9" r="1.95"/><circle cx="641.7" cy="359.6" r="1.95"/><circle cx="650.5" cy="356.7" r="1.95"/><circle cx="632.9" cy="361.8" r="1.95"/><circle cx="659.2" cy="348.6" r="1.95"/><circle cx="625.2" cy="363.2" r="1.95"/><circle cx="635.3" cy="361.8" r="1.95"/><circle cx="630.8" cy="363.5" r="1.95"/><circle cx="637.7" cy="362.2" r="1.95"/><circle cx="645.3" cy="357.0" r="1.95"/><circle cx="617.4" cy="372.4" r="1.95"/><circle cx="620.1" cy="368.5" r="1.95"/><circle cx="619.7" cy="369.2" r="1.95"/><circle cx="626.8" cy="366.3" r="1.95"/><circle cx="666.6" cy="345.6" r="1.95"/><circle cx="641.0" cy="354.7" r="1.95"/><circle cx="632.2" cy="364.9" r="1.95"/><circle cx="633.7" cy="363.3" r="1.95"/><circle cx="634.1" cy="359.1" r="1.95"/><circle cx="638.8" cy="357.3" r="1.95"/><circle cx="652.1" cy="351.6" r="1.95"/><circle cx="641.0" cy="358.6" r="1.95"/><circle cx="642.9" cy="355.9" r="1.95"/><circle cx="643.9" cy="356.7" r="1.95"/></g>
<g fill="none" stroke="#EDB120" stroke-width="1"><circle cx="600.6" cy="375.5" r="1.6"/><circle cx="603.7" cy="377.1" r="1.6"/><circle cx="608.9" cy="370.4" r="1.6"/><circle cx="608.9" cy="375.5" r="1.6"/><circle cx="614.0" cy="373.0" r="1.6"/><circle cx="615.0" cy="365.8" r="1.6"/><circle cx="617.1" cy="365.8" r="1.6"/><circle cx="652.5" cy="349.4" r="1.6"/><circle cx="630.9" cy="354.0" r="1.6"/><circle cx="611.5" cy="372.3" r="1.6"/><circle cx="650.5" cy="351.0" r="1.6"/><circle cx="648.5" cy="350.2" r="1.6"/><circle cx="643.2" cy="359.0" r="1.6"/><circle cx="632.8" cy="359.2" r="1.6"/><circle cx="639.1" cy="360.3" r="1.6"/><circle cx="645.2" cy="355.3" r="1.6"/><circle cx="637.4" cy="361.1" r="1.6"/><circle cx="635.0" cy="361.2" r="1.6"/><circle cx="633.3" cy="359.5" r="1.6"/><circle cx="624.0" cy="363.9" r="1.6"/><circle cx="638.7" cy="363.4" r="1.6"/><circle cx="641.4" cy="361.0" r="1.6"/><circle cx="639.4" cy="360.8" r="1.6"/><circle cx="634.7" cy="362.9" r="1.6"/><circle cx="646.3" cy="355.0" r="1.6"/><circle cx="629.0" cy="368.8" r="1.6"/><circle cx="635.4" cy="363.2" r="1.6"/><circle cx="638.3" cy="355.9" r="1.6"/><circle cx="653.7" cy="358.1" r="1.6"/><circle cx="634.7" cy="362.9" r="1.6"/><circle cx="632.6" cy="359.0" r="1.6"/><circle cx="632.0" cy="362.9" r="1.6"/><circle cx="642.1" cy="359.7" r="1.6"/><circle cx="634.4" cy="364.8" r="1.6"/><circle cx="627.3" cy="366.1" r="1.6"/><circle cx="641.1" cy="357.2" r="1.6"/><circle cx="617.3" cy="365.2" r="1.6"/><circle cx="634.9" cy="362.1" r="1.6"/><circle cx="643.8" cy="354.0" r="1.6"/><circle cx="633.2" cy="363.2" r="1.6"/><circle cx="628.8" cy="356.2" r="1.6"/><circle cx="641.3" cy="364.7" r="1.6"/><circle cx="639.6" cy="356.0" r="1.6"/><circle cx="629.4" cy="363.5" r="1.6"/><circle cx="652.9" cy="355.0" r="1.6"/><circle cx="635.0" cy="365.1" r="1.6"/><circle cx="633.8" cy="366.5" r="1.6"/><circle cx="626.6" cy="362.6" r="1.6"/><circle cx="639.7" cy="362.8" r="1.6"/><circle cx="638.0" cy="360.2" r="1.6"/><circle cx="617.3" cy="365.8" r="1.6"/><circle cx="627.1" cy="362.3" r="1.6"/><circle cx="636.8" cy="358.8" r="1.6"/><circle cx="638.9" cy="359.2" r="1.6"/><circle cx="630.0" cy="363.0" r="1.6"/><circle cx="636.8" cy="362.3" r="1.6"/><circle cx="628.5" cy="362.6" r="1.6"/><circle cx="623.3" cy="370.1" r="1.6"/><circle cx="643.9" cy="356.4" r="1.6"/><circle cx="627.4" cy="360.1" r="1.6"/><circle cx="634.1" cy="361.6" r="1.6"/><circle cx="650.1" cy="355.1" r="1.6"/><circle cx="623.8" cy="358.0" r="1.6"/><circle cx="643.9" cy="357.5" r="1.6"/><circle cx="619.9" cy="367.3" r="1.6"/><circle cx="623.3" cy="375.5" r="1.6"/><circle cx="642.0" cy="359.4" r="1.6"/><circle cx="628.9" cy="356.8" r="1.6"/><circle cx="629.9" cy="358.1" r="1.6"/><circle cx="635.1" cy="354.3" r="1.6"/><circle cx="626.5" cy="367.6" r="1.6"/><circle cx="644.4" cy="353.3" r="1.6"/><circle cx="621.2" cy="368.8" r="1.6"/><circle cx="638.3" cy="356.4" r="1.6"/><circle cx="626.3" cy="362.1" r="1.6"/><circle cx="622.3" cy="363.8" r="1.6"/><circle cx="643.2" cy="359.2" r="1.6"/><circle cx="648.8" cy="354.7" r="1.6"/><circle cx="630.4" cy="359.6" r="1.6"/><circle cx="630.2" cy="358.7" r="1.6"/><circle cx="619.1" cy="369.1" r="1.6"/><circle cx="644.8" cy="359.0" r="1.6"/><circle cx="643.4" cy="357.9" r="1.6"/><circle cx="626.9" cy="364.2" r="1.6"/><circle cx="628.4" cy="360.0" r="1.6"/><circle cx="617.5" cy="363.4" r="1.6"/><circle cx="632.6" cy="362.0" r="1.6"/><circle cx="630.2" cy="366.7" r="1.6"/><circle cx="634.5" cy="362.5" r="1.6"/><circle cx="641.4" cy="355.6" r="1.6"/><circle cx="617.6" cy="369.9" r="1.6"/><circle cx="628.4" cy="367.1" r="1.6"/><circle cx="636.2" cy="363.0" r="1.6"/><circle cx="636.4" cy="353.9" r="1.6"/><circle cx="637.5" cy="357.6" r="1.6"/><circle cx="626.0" cy="363.0" r="1.6"/><circle cx="639.5" cy="361.3" r="1.6"/><circle cx="638.8" cy="354.2" r="1.6"/><circle cx="625.4" cy="357.6" r="1.6"/><circle cx="632.3" cy="363.4" r="1.6"/><circle cx="626.7" cy="364.7" r="1.6"/><circle cx="635.4" cy="363.4" r="1.6"/><circle cx="625.1" cy="362.2" r="1.6"/><circle cx="628.2" cy="368.5" r="1.6"/></g>
<path d="M430.07 552.60v-4.00M430.07 300.40v4.00M471.94 552.60v-4.00M471.94 300.40v4.00M513.81 552.60v-4.00M513.81 300.40v4.00M555.69 552.60v-4.00M555.69 300.40v4.00M597.56 552.60v-4.00M597.56 300.40v4.00M639.43 552.60v-4.00M639.43 300.40v4.00M388.20 524.58h4.00M681.30 524.58h-4.00M388.20 496.56h4.00M681.30 496.56h-4.00M388.20 468.53h4.00M681.30 468.53h-4.00M388.20 440.51h4.00M681.30 440.51h-4.00M388.20 412.49h4.00M681.30 412.49h-4.00M388.20 384.47h4.00M681.30 384.47h-4.00M388.20 356.44h4.00M681.30 356.44h-4.00M388.20 328.42h4.00M681.30 328.42h-4.00" stroke="#333" stroke-width="0.8" fill="none"/>
<rect x="388.20" y="300.40" width="293.10" height="252.20" fill="none" stroke="#333" stroke-width="1"/>
<g font-size="13.0" fill="#1c1c1c">
<text x="388.20" y="564.80" text-anchor="middle" textLength="14.6" lengthAdjust="spacingAndGlyphs">5.5</text>
<text x="430.07" y="564.80" text-anchor="middle" textLength="5.7" lengthAdjust="spacingAndGlyphs">6</text>
<text x="471.94" y="564.80" text-anchor="middle" textLength="14.6" lengthAdjust="spacingAndGlyphs">6.5</text>
<text x="513.81" y="564.80" text-anchor="middle" textLength="5.7" lengthAdjust="spacingAndGlyphs">7</text>
<text x="555.69" y="564.80" text-anchor="middle" textLength="14.6" lengthAdjust="spacingAndGlyphs">7.5</text>
<text x="597.56" y="564.80" text-anchor="middle" textLength="5.7" lengthAdjust="spacingAndGlyphs">8</text>
<text x="639.43" y="564.80" text-anchor="middle" textLength="14.6" lengthAdjust="spacingAndGlyphs">8.5</text>
<text x="681.30" y="564.80" text-anchor="middle" textLength="5.7" lengthAdjust="spacingAndGlyphs">9</text>
<text x="383.60" y="556.50" text-anchor="end" textLength="14.6" lengthAdjust="spacingAndGlyphs">−7</text>
<text x="383.60" y="528.48" text-anchor="end" textLength="14.6" lengthAdjust="spacingAndGlyphs">−6</text>
<text x="383.60" y="500.46" text-anchor="end" textLength="14.6" lengthAdjust="spacingAndGlyphs">−5</text>
<text x="383.60" y="472.43" text-anchor="end" textLength="14.6" lengthAdjust="spacingAndGlyphs">−4</text>
<text x="383.60" y="444.41" text-anchor="end" textLength="14.6" lengthAdjust="spacingAndGlyphs">−3</text>
<text x="383.60" y="416.39" text-anchor="end" textLength="14.6" lengthAdjust="spacingAndGlyphs">−2</text>
<text x="383.60" y="388.37" text-anchor="end" textLength="14.6" lengthAdjust="spacingAndGlyphs">−1</text>
<text x="383.60" y="360.34" text-anchor="end" textLength="5.7" lengthAdjust="spacingAndGlyphs">0</text>
<text x="383.60" y="332.32" text-anchor="end" textLength="5.7" lengthAdjust="spacingAndGlyphs">1</text>
<text x="383.60" y="304.30" text-anchor="end" textLength="5.7" lengthAdjust="spacingAndGlyphs">2</text>
</g>
<g transform="translate(188.15 282.30)" font-size="12.5" fill="#1c1c1c">
<text x="-39.20" y="0" textLength="14.4" lengthAdjust="spacingAndGlyphs">log</text>
<text x="-20.80" y="0" style="font-family:'DejaVu Math TeX Gyre','DejaVu Sans',sans-serif" font-size="12.6" textLength="8.2" lengthAdjust="spacingAndGlyphs">ℰ</text>
<text x="-12.80" y="2.1" font-style="italic" font-size="8.6">e</text>
<text x="-5.40" y="0" textLength="44.4" lengthAdjust="spacingAndGlyphs">at step 1</text>
</g>
<g transform="translate(530.40 282.30)" font-size="12.5" fill="#1c1c1c">
<text x="-39.20" y="0" textLength="14.4" lengthAdjust="spacingAndGlyphs">log</text>
<text x="-20.80" y="0" style="font-family:'DejaVu Math TeX Gyre','DejaVu Sans',sans-serif" font-size="12.6" textLength="8.2" lengthAdjust="spacingAndGlyphs">ℰ</text>
<text x="-12.80" y="2.1" font-style="italic" font-size="8.6">e</text>
<text x="-5.40" y="0" textLength="44.4" lengthAdjust="spacingAndGlyphs">at step 1</text>
</g>
<g transform="translate(184.45 581.30)" font-size="12.5" fill="#1c1c1c">
<text x="-39.20" y="0" textLength="14.4" lengthAdjust="spacingAndGlyphs">log</text>
<text x="-20.80" y="0" style="font-family:'DejaVu Math TeX Gyre','DejaVu Sans',sans-serif" font-size="12.6" textLength="8.2" lengthAdjust="spacingAndGlyphs">ℰ</text>
<text x="-12.80" y="2.1" font-style="italic" font-size="8.6">e</text>
<text x="-5.40" y="0" textLength="44.4" lengthAdjust="spacingAndGlyphs">at step 8</text>
</g>
<g transform="translate(534.75 581.30)" font-size="12.5" fill="#1c1c1c">
<text x="-39.90" y="0" textLength="14.4" lengthAdjust="spacingAndGlyphs">log</text>
<text x="-21.50" y="0" style="font-family:'DejaVu Math TeX Gyre','DejaVu Sans',sans-serif" font-size="12.6" textLength="8.2" lengthAdjust="spacingAndGlyphs">ℰ</text>
<text x="-13.50" y="2.1" font-style="italic" font-size="8.6">d</text>
<text x="-4.70" y="0" textLength="44.4" lengthAdjust="spacingAndGlyphs">at step 8</text>
</g>
<g transform="translate(9.60 129.15) rotate(-90)" font-size="12.5" fill="#1c1c1c">
<text x="-39.20" y="0" textLength="14.4" lengthAdjust="spacingAndGlyphs">log</text>
<text x="-20.80" y="0" style="font-family:'DejaVu Math TeX Gyre','DejaVu Sans',sans-serif" font-size="12.6" textLength="8.2" lengthAdjust="spacingAndGlyphs">ℰ</text>
<text x="-12.80" y="2.1" font-style="italic" font-size="8.6">e</text>
<text x="-5.40" y="0" textLength="44.4" lengthAdjust="spacingAndGlyphs">at step 2</text>
</g>
<g transform="translate(356.80 129.20) rotate(-90)" font-size="12.5" fill="#1c1c1c">
<text x="-39.20" y="0" textLength="14.4" lengthAdjust="spacingAndGlyphs">log</text>
<text x="-20.80" y="0" style="font-family:'DejaVu Math TeX Gyre','DejaVu Sans',sans-serif" font-size="12.6" textLength="8.2" lengthAdjust="spacingAndGlyphs">ℰ</text>
<text x="-12.80" y="2.1" font-style="italic" font-size="8.6">e</text>
<text x="-5.40" y="0" textLength="44.4" lengthAdjust="spacingAndGlyphs">at step 3</text>
</g>
<g transform="translate(9.90 428.20) rotate(-90)" font-size="12.5" fill="#1c1c1c">
<text x="-39.90" y="0" textLength="14.4" lengthAdjust="spacingAndGlyphs">log</text>
<text x="-21.50" y="0" style="font-family:'DejaVu Math TeX Gyre','DejaVu Sans',sans-serif" font-size="12.6" textLength="8.2" lengthAdjust="spacingAndGlyphs">ℰ</text>
<text x="-13.50" y="2.1" font-style="italic" font-size="8.6">d</text>
<text x="-4.70" y="0" textLength="44.4" lengthAdjust="spacingAndGlyphs">at step 8</text>
</g>
<g transform="translate(358.10 426.50) rotate(-90)" font-size="12.5" fill="#1c1c1c">
<text x="-39.90" y="0" textLength="14.4" lengthAdjust="spacingAndGlyphs">log</text>
<text x="-21.50" y="0" style="font-family:'DejaVu Math TeX Gyre','DejaVu Sans',sans-serif" font-size="12.6" textLength="8.2" lengthAdjust="spacingAndGlyphs">ℰ</text>
<text x="-13.50" y="2.1" font-style="italic" font-size="8.6">h</text>
<text x="-4.70" y="0" textLength="44.4" lengthAdjust="spacingAndGlyphs">at step 8</text>
</g>
<rect x="282.30" y="10.30" width="44.20" height="45.90" fill="#fff" stroke="#333" stroke-width="0.9"/>
<circle cx="287.0" cy="19.3" r="1.5" fill="none" stroke="#0072BD" stroke-width="1"/>
<text x="290.60" y="22.70" font-size="13.0" fill="#1c1c1c" textLength="31.1" lengthAdjust="spacingAndGlyphs">lc=inf</text>
<circle cx="287.0" cy="33.2" r="1.95" fill="#D95319"/>
<text x="290.60" y="36.65" font-size="13.0" fill="#1c1c1c" textLength="28.9" lengthAdjust="spacingAndGlyphs">lc=25</text>
<circle cx="287.0" cy="47.2" r="1.4" fill="#EDB120"/>
<text x="290.60" y="50.60" font-size="13.0" fill="#1c1c1c" textLength="28.9" lengthAdjust="spacingAndGlyphs">lc=10</text>
<rect x="626.40" y="10.50" width="41.80" height="46.30" fill="#fff" stroke="#333" stroke-width="0.9"/>
<circle cx="631.1" cy="19.5" r="1.5" fill="none" stroke="#0072BD" stroke-width="1"/>
<text x="634.70" y="22.90" font-size="13.0" fill="#1c1c1c" textLength="27.9" lengthAdjust="spacingAndGlyphs">data1</text>
<circle cx="631.1" cy="33.6" r="1.95" fill="#D95319"/>
<text x="634.70" y="37.05" font-size="13.0" fill="#1c1c1c" textLength="27.9" lengthAdjust="spacingAndGlyphs">data2</text>
<circle cx="631.1" cy="47.8" r="1.4" fill="#EDB120"/>
<text x="634.70" y="51.20" font-size="13.0" fill="#1c1c1c" textLength="27.9" lengthAdjust="spacingAndGlyphs">data3</text>
<rect x="278.90" y="308.10" width="44.40" height="47.10" fill="#fff" stroke="#333" stroke-width="0.9"/>
<circle cx="283.6" cy="317.1" r="1.4" fill="#0072BD"/>
<text x="287.20" y="320.50" font-size="13.0" fill="#1c1c1c" textLength="31.1" lengthAdjust="spacingAndGlyphs">lc=inf</text>
<circle cx="283.6" cy="331.6" r="1.95" fill="#D95319"/>
<text x="287.20" y="335.05" font-size="13.0" fill="#1c1c1c" textLength="28.9" lengthAdjust="spacingAndGlyphs">lc=25</text>
<circle cx="283.6" cy="346.2" r="1.6" fill="none" stroke="#EDB120" stroke-width="1"/>
<text x="287.20" y="349.60" font-size="13.0" fill="#1c1c1c" textLength="28.9" lengthAdjust="spacingAndGlyphs">lc=10</text>
<rect x="394.20" y="306.20" width="44.40" height="46.80" fill="#fff" stroke="#333" stroke-width="0.9"/>
<circle cx="398.9" cy="315.2" r="1.4" fill="#0072BD"/>
<text x="402.50" y="318.60" font-size="13.0" fill="#1c1c1c" textLength="31.1" lengthAdjust="spacingAndGlyphs">lc=inf</text>
<circle cx="398.9" cy="329.6" r="1.95" fill="#D95319"/>
<text x="402.50" y="333.00" font-size="13.0" fill="#1c1c1c" textLength="28.9" lengthAdjust="spacingAndGlyphs">lc=25</text>
<circle cx="398.9" cy="344.0" r="1.6" fill="none" stroke="#EDB120" stroke-width="1"/>
<text x="402.50" y="347.40" font-size="13.0" fill="#1c1c1c" textLength="28.9" lengthAdjust="spacingAndGlyphs">lc=10</text>
</svg></body></html>
